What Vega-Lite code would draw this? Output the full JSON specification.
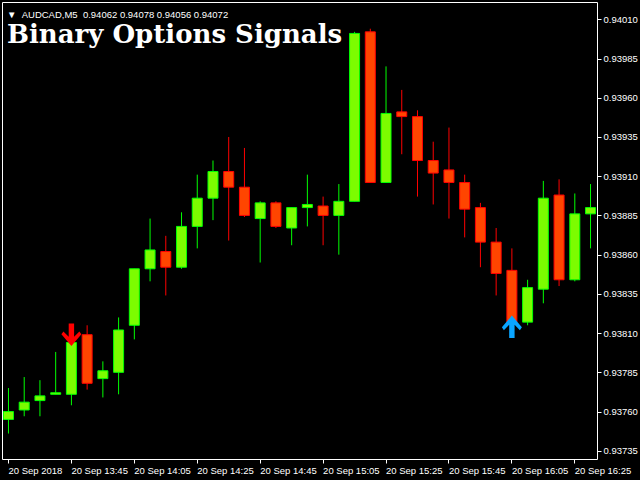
{
  "$schema": "https://vega.github.io/schema/vega-lite/v6.json",
  "width": 595,
  "height": 457,
  "autosize": {"type": "none"},
  "padding": {"left": 2, "top": 2, "right": 43, "bottom": 21},
  "background": "black",
  "title": {
    "text": "▼\u00a0\u00a0AUDCAD,M5\u00a0\u00a00.94062 0.94078 0.94056 0.94072",
    "subtitle": "Binary Options Signals",
    "anchor": "start",
    "frame": "group",
    "orient": "top",
    "offset": -46,
    "dx": 5,
    "color": "white",
    "font": "Liberation Sans",
    "fontSize": 9.5,
    "fontWeight": "normal",
    "subtitleColor": "white",
    "subtitleFont": "DejaVu Serif",
    "subtitleFontWeight": "bold",
    "subtitleFontSize": 26,
    "subtitlePadding": 3
  },
  "datasets": {
    "candles": [
      {"t": "2018-09-20T13:25:00Z", "o": 0.93755, "h": 0.93775, "l": 0.93746, "c": 0.93760, "d": "up"},
      {"t": "2018-09-20T13:30:00Z", "o": 0.93761, "h": 0.93782, "l": 0.93757, "c": 0.93766, "d": "up"},
      {"t": "2018-09-20T13:35:00Z", "o": 0.93767, "h": 0.93780, "l": 0.93757, "c": 0.93770, "d": "up"},
      {"t": "2018-09-20T13:40:00Z", "o": 0.93771, "h": 0.93798, "l": 0.93771, "c": 0.93772, "d": "up"},
      {"t": "2018-09-20T13:45:00Z", "o": 0.93771, "h": 0.93804, "l": 0.93764, "c": 0.93804, "d": "up"},
      {"t": "2018-09-20T13:50:00Z", "o": 0.93809, "h": 0.93815, "l": 0.93774, "c": 0.93778, "d": "down"},
      {"t": "2018-09-20T13:55:00Z", "o": 0.93781, "h": 0.93792, "l": 0.93769, "c": 0.93786, "d": "up"},
      {"t": "2018-09-20T14:00:00Z", "o": 0.93785, "h": 0.93820, "l": 0.93771, "c": 0.93812, "d": "up"},
      {"t": "2018-09-20T14:05:00Z", "o": 0.93815, "h": 0.93851, "l": 0.93806, "c": 0.93851, "d": "up"},
      {"t": "2018-09-20T14:10:00Z", "o": 0.93851, "h": 0.93883, "l": 0.93843, "c": 0.93863, "d": "up"},
      {"t": "2018-09-20T14:15:00Z", "o": 0.93862, "h": 0.93872, "l": 0.93834, "c": 0.93852, "d": "down"},
      {"t": "2018-09-20T14:20:00Z", "o": 0.93852, "h": 0.93887, "l": 0.93851, "c": 0.93878, "d": "up"},
      {"t": "2018-09-20T14:25:00Z", "o": 0.93878, "h": 0.93911, "l": 0.93864, "c": 0.93896, "d": "up"},
      {"t": "2018-09-20T14:30:00Z", "o": 0.93896, "h": 0.93920, "l": 0.93882, "c": 0.93913, "d": "up"},
      {"t": "2018-09-20T14:35:00Z", "o": 0.93913, "h": 0.93935, "l": 0.93869, "c": 0.93903, "d": "down"},
      {"t": "2018-09-20T14:40:00Z", "o": 0.93903, "h": 0.93928, "l": 0.93884, "c": 0.93885, "d": "down"},
      {"t": "2018-09-20T14:45:00Z", "o": 0.93883, "h": 0.93894, "l": 0.93855, "c": 0.93893, "d": "up"},
      {"t": "2018-09-20T14:50:00Z", "o": 0.93893, "h": 0.93894, "l": 0.93877, "c": 0.93878, "d": "down"},
      {"t": "2018-09-20T14:55:00Z", "o": 0.93877, "h": 0.93890, "l": 0.93866, "c": 0.93890, "d": "up"},
      {"t": "2018-09-20T15:00:00Z", "o": 0.93890, "h": 0.93911, "l": 0.93878, "c": 0.93892, "d": "up"},
      {"t": "2018-09-20T15:05:00Z", "o": 0.93891, "h": 0.93897, "l": 0.93866, "c": 0.93885, "d": "down"},
      {"t": "2018-09-20T15:10:00Z", "o": 0.93885, "h": 0.93905, "l": 0.93860, "c": 0.93894, "d": "up"},
      {"t": "2018-09-20T15:15:00Z", "o": 0.93894, "h": 0.94002, "l": 0.93894, "c": 0.94001, "d": "up"},
      {"t": "2018-09-20T15:20:00Z", "o": 0.94002, "h": 0.94004, "l": 0.93906, "c": 0.93906, "d": "down"},
      {"t": "2018-09-20T15:25:00Z", "o": 0.93906, "h": 0.93980, "l": 0.93906, "c": 0.93950, "d": "up"},
      {"t": "2018-09-20T15:30:00Z", "o": 0.93951, "h": 0.93965, "l": 0.93924, "c": 0.93948, "d": "down"},
      {"t": "2018-09-20T15:35:00Z", "o": 0.93948, "h": 0.93952, "l": 0.93897, "c": 0.93920, "d": "down"},
      {"t": "2018-09-20T15:40:00Z", "o": 0.93920, "h": 0.93932, "l": 0.93892, "c": 0.93912, "d": "down"},
      {"t": "2018-09-20T15:45:00Z", "o": 0.93914, "h": 0.93941, "l": 0.93883, "c": 0.93906, "d": "down"},
      {"t": "2018-09-20T15:50:00Z", "o": 0.93906, "h": 0.93911, "l": 0.93871, "c": 0.93889, "d": "down"},
      {"t": "2018-09-20T15:55:00Z", "o": 0.93890, "h": 0.93893, "l": 0.93852, "c": 0.93868, "d": "down"},
      {"t": "2018-09-20T16:00:00Z", "o": 0.93868, "h": 0.93877, "l": 0.93834, "c": 0.93848, "d": "down"},
      {"t": "2018-09-20T16:05:00Z", "o": 0.93850, "h": 0.93864, "l": 0.93816, "c": 0.93817, "d": "down"},
      {"t": "2018-09-20T16:10:00Z", "o": 0.93817, "h": 0.93844, "l": 0.93815, "c": 0.93839, "d": "up"},
      {"t": "2018-09-20T16:15:00Z", "o": 0.93838, "h": 0.93907, "l": 0.93829, "c": 0.93896, "d": "up"},
      {"t": "2018-09-20T16:20:00Z", "o": 0.93898, "h": 0.93908, "l": 0.93840, "c": 0.93844, "d": "down"},
      {"t": "2018-09-20T16:25:00Z", "o": 0.93844, "h": 0.93899, "l": 0.93843, "c": 0.93886, "d": "up"},
      {"t": "2018-09-20T16:30:00Z", "o": 0.93886, "h": 0.93905, "l": 0.93864, "c": 0.93890, "d": "up"}
    ],
    "arrows": [
      {"t": "2018-09-20T13:45:00Z", "p": 0.93809, "d": "down"},
      {"t": "2018-09-20T16:05:00Z", "p": 0.93814, "d": "up"}
    ]
  },
  "encoding": {
    "x": {
      "field": "t",
      "type": "temporal",
      "scale": {
        "type": "utc",
        "domain": [
          {"year": 2018, "month": 9, "date": 20, "hours": 13, "minutes": 24, "seconds": 41, "milliseconds": 250, "utc": true},
          {"year": 2018, "month": 9, "date": 20, "hours": 16, "minutes": 30, "seconds": 37, "milliseconds": 500, "utc": true}
        ]
      },
      "axis": {
        "title": null,
        "values": [
          {"year": 2018, "month": 9, "date": 20, "hours": 13, "minutes": 25, "utc": true},
          {"year": 2018, "month": 9, "date": 20, "hours": 13, "minutes": 45, "utc": true},
          {"year": 2018, "month": 9, "date": 20, "hours": 14, "minutes": 5, "utc": true},
          {"year": 2018, "month": 9, "date": 20, "hours": 14, "minutes": 25, "utc": true},
          {"year": 2018, "month": 9, "date": 20, "hours": 14, "minutes": 45, "utc": true},
          {"year": 2018, "month": 9, "date": 20, "hours": 15, "minutes": 5, "utc": true},
          {"year": 2018, "month": 9, "date": 20, "hours": 15, "minutes": 25, "utc": true},
          {"year": 2018, "month": 9, "date": 20, "hours": 15, "minutes": 45, "utc": true},
          {"year": 2018, "month": 9, "date": 20, "hours": 16, "minutes": 5, "utc": true},
          {"year": 2018, "month": 9, "date": 20, "hours": 16, "minutes": 25, "utc": true}
        ],
        "labelExpr": "utcFormat(datum.value, '%H:%M') == '13:25' ? '20 Sep 2018' : '20 Sep ' + utcFormat(datum.value, '%H:%M')",
        "labelAlign": "left",
        "labelFlush": false,
        "labelOverlap": false,
        "labelBound": false,
        "labelPadding": 2,
        "tickSize": 4,
        "grid": false,
        "domain": false,
        "tickColor": "white",
        "labelColor": "white",
        "labelFont": "Liberation Sans",
        "labelFontSize": 9.5
      }
    }
  },
  "layer": [
    {
      "data": {"name": "candles"},
      "mark": {"type": "rule", "strokeWidth": 1, "xOffset": 0.5, "clip": true},
      "encoding": {
        "y": {
          "field": "l",
          "type": "quantitative",
          "scale": {"domain": [0.9372977, 0.9402103], "nice": false, "zero": false},
          "axis": {
            "orient": "right",
            "title": null,
            "values": [0.93735, 0.93760, 0.93785, 0.93810, 0.93835, 0.93860, 0.93885, 0.93910, 0.93935, 0.93960, 0.93985, 0.94010],
            "format": ".5f",
            "tickSize": 4,
            "labelPadding": 2,
            "grid": false,
            "domain": false,
            "tickColor": "white",
            "labelColor": "white",
            "labelFont": "Liberation Sans",
            "labelFontSize": 9.5
          }
        },
        "y2": {"field": "h"},
        "color": {
          "field": "d",
          "type": "nominal",
          "scale": {"domain": ["up", "down"], "range": ["#00FF00", "#FF0000"]},
          "legend": null
        }
      }
    },
    {
      "data": {"name": "candles"},
      "mark": {"type": "bar", "size": 10, "strokeWidth": 1, "xOffset": 0.5, "clip": true},
      "encoding": {
        "y": {"field": "o", "type": "quantitative"},
        "y2": {"field": "c"},
        "fill": {
          "field": "d",
          "type": "nominal",
          "scale": {"domain": ["up", "down"], "range": ["#7CFC00", "#FF4500"]},
          "legend": null
        },
        "stroke": {
          "field": "d",
          "type": "nominal",
          "scale": {"domain": ["up", "down"], "range": ["#00FF00", "#FF0000"]},
          "legend": null
        }
      }
    },
    {
      "data": {"name": "arrows"},
      "mark": {"type": "point", "filled": true, "size": 400, "opacity": 1, "xOffset": 0.5},
      "encoding": {
        "y": {"field": "p", "type": "quantitative"},
        "shape": {
          "field": "d",
          "type": "nominal",
          "scale": {
            "domain": ["down", "up"],
            "range": [
              "M -0.27 -1.125 L 0.27 -1.125 L 0.27 0.2 L 0.8 -0.33 L 1 -0.05 L 0 1.125 L -1 -0.05 L -0.8 -0.33 L -0.27 0.2 Z",
              "M -0.27 1.125 L 0.27 1.125 L 0.27 -0.2 L 0.8 0.33 L 1 0.05 L 0 -1.125 L -1 0.05 L -0.8 0.33 L -0.27 -0.2 Z"
            ]
          },
          "legend": null
        },
        "color": {
          "field": "d",
          "type": "nominal",
          "scale": {"domain": ["down", "up"], "range": ["#FF0000", "#0AA5FF"]},
          "legend": null
        }
      }
    }
  ],
  "resolve": {"scale": {"color": "independent"}},
  "config": {
    "view": {"stroke": "white", "strokeWidth": 1},
    "axis": {"grid": false}
  }
}
